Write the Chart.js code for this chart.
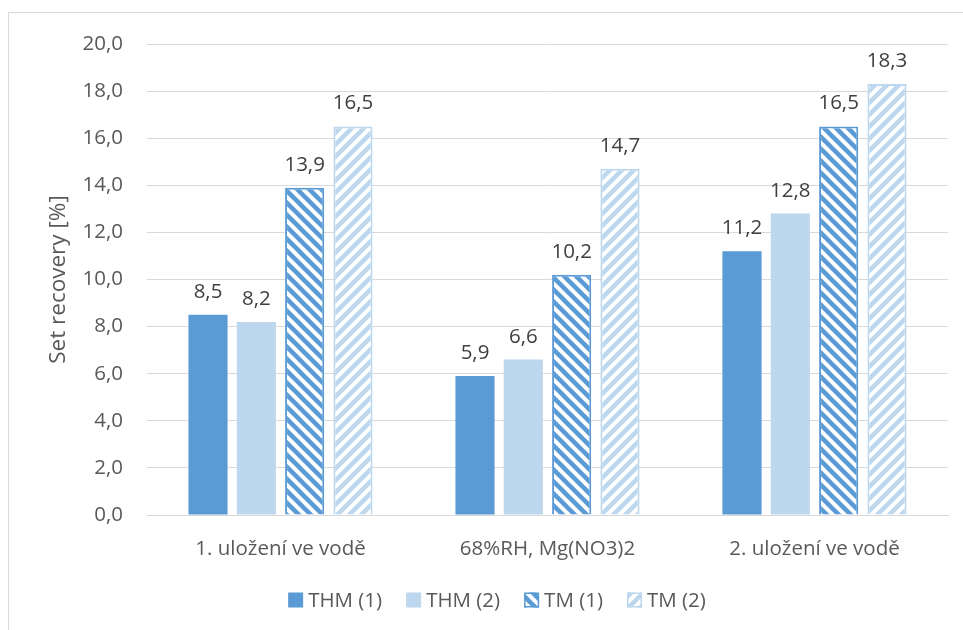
<!DOCTYPE html>
<html>
<head>
<meta charset="utf-8">
<script src="https://cdn.jsdelivr.net/npm/chart.js@4.4.1/dist/chart.umd.min.js"></script>
<style>
  html, body { margin: 0; padding: 0; background: #fff; }
  #wrap { position: relative; width: 963px; height: 630px; overflow: hidden; }
  #frame { position: absolute; left: 8px; top: 12px; width: 970px; height: 640px;
           border-left: 1px solid #d9d9d9; border-top: 1px solid #d9d9d9; box-sizing: border-box; }
  canvas { position: absolute; left: 0; top: 0; }
</style>
</head>
<body>
<div id="wrap">
  <div id="frame"></div>
  <canvas id="c" width="963" height="630"></canvas>
</div>
<script>
const categories = ["1. uložení ve vodě", "68%RH, Mg(NO3)2", "2. uložení ve vodě"];
const seriesNames = ["THM (1)", "THM (2)", "TM (1)", "TM (2)"];
const thm1 = [8.5, 5.9, 11.2];
const thm2 = [8.2, 6.6, 12.8];
const tm1 = [13.9, 10.2, 16.5];
const tm2 = [16.5, 14.7, 18.3];
const yTicks = [0, 2, 4, 6, 8, 10, 12, 14, 16, 18, 20];

const DARK = "#5B9BD5";
const LIGHT = "#BDD7EE";
const FONT = "'Open Sans', 'Noto Sans', sans-serif";
const TEXT = "#595959";
const FS = 20.5;

function stripePattern(color, down) {
  const s = 12;
  const p = document.createElement("canvas");
  p.width = s; p.height = s;
  const g = p.getContext("2d");
  g.fillStyle = "#fff";
  g.fillRect(0, 0, s, s);
  g.strokeStyle = color;
  g.lineWidth = 4.5;
  g.lineCap = "square";
  for (let k = -2; k <= 2; k++) {
    g.beginPath();
    if (down) { g.moveTo(k * s, 0); g.lineTo(k * s + s, s); }
    else { g.moveTo(k * s, s); g.lineTo(k * s + s, 0); }
    g.stroke();
  }
  return document.getElementById("c").getContext("2d").createPattern(p, "repeat");
}

const patDark = stripePattern(DARK, true);
const patLight = stripePattern(LIGHT, false);

const fmt = v => v.toFixed(1).replace(".", ",");

const dataLabels = {
  id: "dataLabels",
  afterDatasetsDraw(chart) {
    const ctx = chart.ctx;
    ctx.save();
    ctx.font = FS + "px " + FONT;
    ctx.fillStyle = "#404040";
    ctx.textAlign = "center";
    ctx.textBaseline = "alphabetic";
    chart.data.datasets.forEach((ds, i) => {
      chart.getDatasetMeta(i).data.forEach((bar, j) => {
        ctx.fillText(fmt(ds.data[j]), bar.x, bar.y - 17);
      });
    });
    ctx.restore();
  }
};

const customLegend = {
  id: "customLegend",
  afterDraw(chart) {
    const ctx = chart.ctx;
    ctx.save();
    ctx.font = FS + "px " + FONT;
    const box = 15, gapText = 5, gapItem = 24;
    const ds = chart.data.datasets;
    const widths = ds.map(d => box + gapText + ctx.measureText(d.label).width);
    const total = widths.reduce((a, b) => a + b, 0) + gapItem * (ds.length - 1);
    let x = 497 - total / 2;
    const cy = 600;
    ds.forEach((d, i) => {
      ctx.fillStyle = d.backgroundColor;
      ctx.fillRect(x, cy - box / 2, box, box);
      if (d.borderWidth) {
        ctx.strokeStyle = d.borderColor;
        ctx.lineWidth = 1.5;
        ctx.strokeRect(x + 0.75, cy - box / 2 + 0.75, box - 1.5, box - 1.5);
      }
      ctx.fillStyle = TEXT;
      ctx.textAlign = "left";
      ctx.textBaseline = "middle";
      ctx.fillText(d.label, x + box + gapText, cy + 1);
      x += widths[i] + gapItem;
    });
    ctx.restore();
  }
};

new Chart(document.getElementById("c"), {
  type: "bar",
  data: {
    labels: categories,
    datasets: [
      { label: seriesNames[0], data: thm1, backgroundColor: DARK, borderWidth: 0 },
      { label: seriesNames[1], data: thm2, backgroundColor: LIGHT, borderWidth: 0 },
      { label: seriesNames[2], data: tm1, backgroundColor: patDark, borderColor: DARK, borderWidth: 2 },
      { label: seriesNames[3], data: tm2, backgroundColor: patLight, borderColor: LIGHT, borderWidth: 2 }
    ]
  },
  options: {
    responsive: false,
    animation: false,
    devicePixelRatio: 1,
    layout: { padding: { left: 45, right: 15, top: 44, bottom: 0 } },
    datasets: { bar: { categoryPercentage: 0.724, barPercentage: 0.81 } },
    plugins: {
      legend: { display: false },
      tooltip: { enabled: false }
    },
    scales: {
      x: {
        afterFit(scale) { scale.height = 115; },
        grid: { display: false, drawTicks: false },
        border: { display: true, color: "#d9d9d9" },
        ticks: { font: { family: FONT, size: FS }, color: TEXT, padding: 22 }
      },
      y: {
        min: 0, max: 20,
        afterBuildTicks(scale) { scale.ticks = yTicks.map(v => ({ value: v })); },
        afterFit(scale) { scale.width = 102; },
        grid: { color: "#d9d9d9", drawTicks: false },
        border: { display: false },
        ticks: { font: { family: FONT, size: FS }, color: TEXT, padding: 24, callback: v => fmt(v) },
        title: { display: true, text: "Set recovery [%]", font: { family: FONT, size: 22.5 }, color: TEXT, padding: { top: 0, bottom: 0 } }
      }
    }
  },
  plugins: [dataLabels, customLegend]
});
</script>
</body>
</html>
